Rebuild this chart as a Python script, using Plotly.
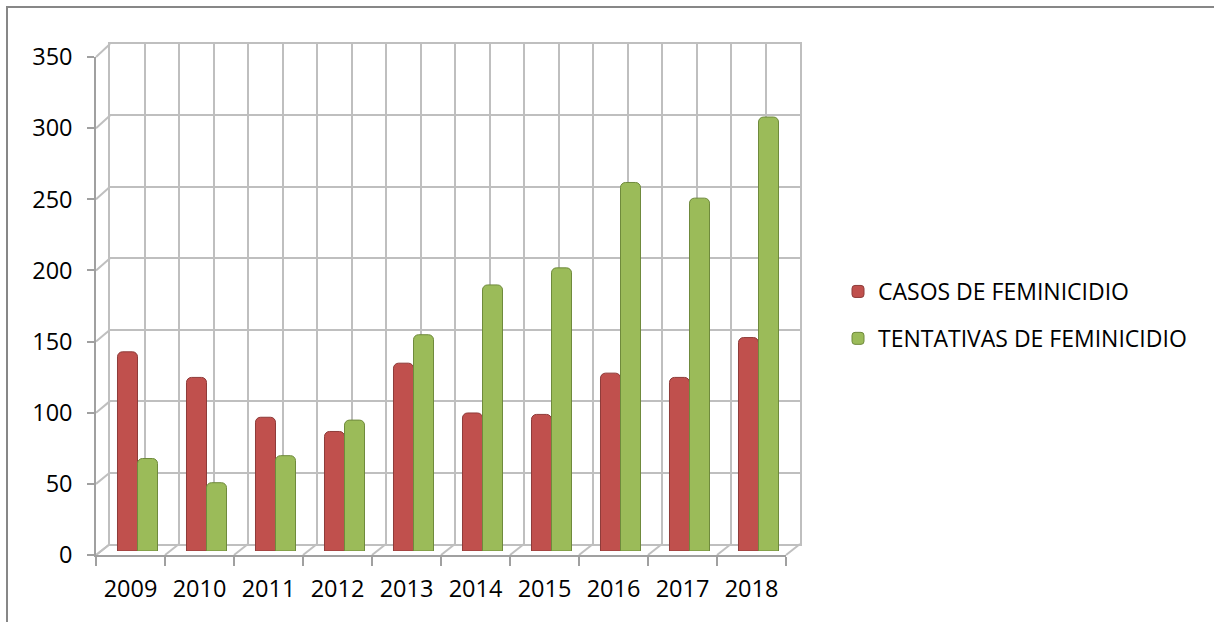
import plotly.graph_objects as go

# ---- data ----
years = ["2009", "2010", "2011", "2012", "2013", "2014", "2015", "2016", "2017", "2018"]
casos = [140, 122, 94, 84, 132, 97, 96, 125, 122, 150]
tentativas = [65, 48, 67, 92, 152, 187, 199, 259, 248, 305]
series_names = ["CASOS DE FEMINICIDIO", "TENTATIVAS DE FEMINICIDIO"]
y_ticks = [0, 50, 100, 150, 200, 250, 300, 350]

# ---- geometry helpers (pixel -> paper) ----
W, H = 1214, 622
def fx(px):
    return px / W
def fy(py):
    return 1 - py / H

YMAX = 350
n = len(years)

back_x = [fx(110), fx(800)]
back_y = [fy(544), fy(44)]
bar_x = [fx(103), fx(793)]
bar_y = [fy(551), fy(53)]
front_x = [fx(96), fx(786)]
front_y = [fy(555), fy(57)]

GRID = "#BFBFBF"
AXIS = "#A0A0A0"
FONT = "Open Sans"

fig = go.Figure()

# invisible trace so the back-wall subplot is drawn
fig.add_trace(go.Scatter(
    x=[0], y=[0], xaxis="x", yaxis="y", mode="markers",
    marker=dict(opacity=0), showlegend=False, hoverinfo="skip",
))
fig.add_trace(go.Bar(
    x=years, y=casos, name=series_names[0], xaxis="x2", yaxis="y2",
    marker=dict(color="#C0504D", line=dict(color="#8E3B39", width=1)),
    legendgroup="a", hoverinfo="x+y",
))
fig.add_trace(go.Bar(
    x=years, y=tentativas, name=series_names[1], xaxis="x2", yaxis="y2",
    marker=dict(color="#9BBB59", line=dict(color="#6F8A3C", width=1)),
    legendgroup="b", hoverinfo="x+y",
))
# invisible trace so the front category axis has its categories
fig.add_trace(go.Scatter(
    x=years, y=[0] * n, xaxis="x3", yaxis="y3", mode="markers",
    marker=dict(opacity=0), showlegend=False, hoverinfo="skip",
))

half_steps = [i * 0.5 - 0.5 for i in range(2 * n + 1)]

shapes = []
# side wall diagonals at each y tick
for v in y_ticks:
    yf = front_y[0] + (front_y[1] - front_y[0]) * v / YMAX
    yb = back_y[0] + (back_y[1] - back_y[0]) * v / YMAX
    shapes.append(dict(type="line", xref="paper", yref="paper",
                       x0=front_x[0], y0=yf, x1=back_x[0], y1=yb,
                       line=dict(color=GRID, width=2), layer="below"))
# floor diagonals at each category boundary
for k in range(n + 1):
    xf = front_x[0] + (front_x[1] - front_x[0]) * k / n
    xb = back_x[0] + (back_x[1] - back_x[0]) * k / n
    shapes.append(dict(type="line", xref="paper", yref="paper",
                       x0=xf, y0=front_y[0], x1=xb, y1=back_y[0],
                       line=dict(color=GRID, width=2), layer="below"))
# outer chart border
shapes.append(dict(type="rect", xref="paper", yref="paper",
                   x0=fx(7), y0=fy(7), x1=1.02, y1=-0.02,
                   line=dict(color="#878787", width=2), fillcolor="rgba(0,0,0,0)"))

fig.update_layout(
    template="none",
    width=W, height=H,
    margin=dict(l=0, r=0, t=0, b=0, pad=0, autoexpand=False),
    paper_bgcolor="white",
    plot_bgcolor="rgba(0,0,0,0)",
    font=dict(family=FONT, size=23, color="black"),
    barmode="group", bargap=0.42, bargroupgap=0, barcornerradius=5,
    showlegend=True,
    legend=dict(x=fx(838), y=fy(270), xanchor="left", yanchor="top",
                font=dict(family=FONT, size=23, color="black"),
                tracegroupgap=14, bgcolor="rgba(0,0,0,0)", borderwidth=0),
    # back wall
    xaxis=dict(domain=back_x, range=[-0.5, n - 0.5], anchor="y",
               tickvals=half_steps, showticklabels=False, ticks="",
               showgrid=True, gridcolor=GRID, gridwidth=2,
               showline=True, mirror=True, linecolor=GRID, linewidth=2,
               zeroline=False, fixedrange=True, automargin=False),
    yaxis=dict(domain=back_y, range=[0, YMAX], anchor="x",
               tickvals=y_ticks, showticklabels=False, ticks="",
               showgrid=True, gridcolor=GRID, gridwidth=2,
               showline=True, mirror=True, linecolor=GRID, linewidth=2,
               zeroline=False, fixedrange=True, automargin=False),
    # bars
    xaxis2=dict(domain=bar_x, range=[-0.5, n - 0.5], anchor="y2", type="category",
                categoryorder="array", categoryarray=years, visible=False,
                automargin=False),
    yaxis2=dict(domain=bar_y, range=[0, YMAX], anchor="x2", visible=False,
                automargin=False),
    # front axes
    xaxis3=dict(domain=front_x, range=[-0.5, n - 0.5], anchor="y3", type="category",
                categoryorder="array", categoryarray=years,
                tickson="boundaries", ticks="outside", ticklen=9,
                tickcolor=AXIS, tickwidth=1.5, showline=True, linecolor=AXIS,
                linewidth=1.5, showgrid=False, zeroline=False,
                ticklabelstandoff=12, automargin=False,
                tickfont=dict(family=FONT, size=23.5, color="black")),
    yaxis3=dict(domain=front_y, range=[0, YMAX], anchor="x3",
                tickvals=y_ticks, ticks="outside", ticklen=7,
                tickcolor=AXIS, tickwidth=1.5, showline=True, linecolor=AXIS,
                linewidth=1.5, showgrid=False, zeroline=False,
                ticklabelstandoff=10, automargin=False,
                tickfont=dict(family=FONT, size=23.5, color="black")),
    shapes=shapes,
)

fig.write_html(
    "out.html",
    config={"displayModeBar": False},
    post_script="document.body.style.margin='0';document.body.style.overflow='hidden';",
)
